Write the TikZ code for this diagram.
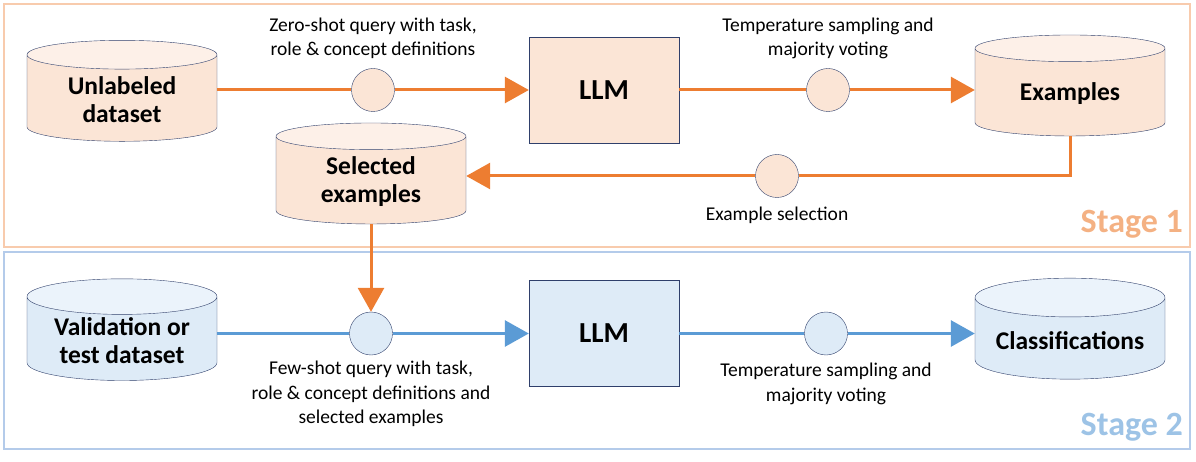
\documentclass[tikz,border=0pt]{standalone}
\usepackage{fontspec}
\setmainfont{Carlito}
\usetikzlibrary{positioning,shapes.geometric,arrows.meta}

\definecolor{lineorange}{HTML}{ED7D31}
\definecolor{fillorange}{HTML}{FBE5D6}
\definecolor{toporange}{HTML}{FDF0E8}
\definecolor{frameorange}{HTML}{F8CBAD}
\definecolor{textorange}{HTML}{F4B183}
\definecolor{lineblue}{HTML}{5B9BD5}
\definecolor{fillblue}{HTML}{DEEBF7}
\definecolor{topblue}{HTML}{EBF3FB}
\definecolor{frameblue}{HTML}{B4CBEA}
\definecolor{textblue}{HTML}{9DC3E6}
\definecolor{edgenavy}{HTML}{2F3F6B}

\begin{document}
\begin{tikzpicture}[x=1pt, y=-1pt,
    dbnode/.style={cylinder, shape border rotate=90, draw=edgenavy, thin, aspect=0.25,
        minimum width=190pt, minimum height=101pt, cylinder uses custom fill,
        align=center, font=\fontsize{25.5}{28}\selectfont\bfseries},
    llmnode/.style={rectangle, draw=edgenavy, thin, minimum width=150pt, minimum height=106pt,
        font=\fontsize{29}{32}\selectfont\bfseries},
    stepcircle/.style={circle, draw=edgenavy, thin, minimum size=43pt, inner sep=0pt},
    notenode/.style={align=center, inner sep=0pt, font=\fontsize{19.5}{24.5}\selectfont},
    orangeline/.style={draw=lineorange, line width=3pt},
    blueline/.style={draw=lineblue, line width=3pt},
    flowarrow/.style={-{Triangle[length=24pt, width=26pt]}},
    stagelabel/.style={anchor=base east, inner sep=0pt, font=\fontsize{34}{38}\selectfont\bfseries}]

    \useasboundingbox (0,0) rectangle (1196,462);

    % stage frames
    \draw[frameorange, line width=1.5pt] (4,4) rectangle (1190,247);
    \draw[frameblue, line width=1.5pt] (4,252) rectangle (1190,449);
    \node[stagelabel, text=textorange] (st1) at (1183,233) {Stage 1};
    \node[stagelabel, text=textblue] (st2) at (1183,435) {Stage 2};

    % stage 1
    \node[dbnode, cylinder body fill=fillorange, cylinder end fill=toporange] (unlab) at (122,100) {Unlabeled\\dataset};
    \node[stepcircle, fill=fillorange] (q1) at (373,90) {};
    \node[llmnode, fill=fillorange] (llm1) at (604,90) {LLM};
    \node[stepcircle, fill=fillorange] (q2) at (828,90) {};
    \node[dbnode, cylinder body fill=fillorange, cylinder end fill=toporange] (ex) at (1070,94) {Examples};
    \node[dbnode, cylinder body fill=fillorange, cylinder end fill=toporange] (sel) at (371,182) {Selected\\examples};
    \node[stepcircle, fill=fillorange] (q3) at (777,176) {};

    \node[notenode] (n1) [above=9pt of q1] {Zero-shot query with task,\\role \& concept definitions};
    \node[notenode] (n2) [above=9pt of q2] {Temperature sampling and\\majority voting};
    \node[notenode] (n3) [below=9pt of q3] {Example selection};

    \draw[orangeline] (unlab.east |- q1) -- (q1);
    \draw[orangeline, flowarrow] (q1) -- (llm1);
    \draw[orangeline] (llm1) -- (q2);
    \draw[orangeline, flowarrow] (q2) -- (q2 -| ex.west);
    \draw[orangeline] (ex.south) |- (q3);
    \draw[orangeline, flowarrow] (q3) -- (q3 -| sel.east);

    % stage 2
    \node[dbnode, cylinder body fill=fillblue, cylinder end fill=topblue] (val) at (122,341) {Validation or\\test dataset};
    \node[stepcircle, fill=fillblue] (q4) at (371,333.5) {};
    \node[llmnode, fill=fillblue] (llm2) at (604,333.5) {LLM};
    \node[stepcircle, fill=fillblue] (q5) at (826,333.5) {};
    \node[dbnode, cylinder body fill=fillblue, cylinder end fill=topblue] (cls) at (1070,341) {Classifications};

    \node[notenode] (n4) [below=6pt of q4] {Few-shot query with task,\\role \& concept definitions and\\selected examples};
    \node[notenode] (n5) [below=8pt of q5] {Temperature sampling and\\majority voting};

    \draw[blueline] (val.east |- q4) -- (q4);
    \draw[blueline, flowarrow] (q4) -- (llm2);
    \draw[blueline] (llm2) -- (q5);
    \draw[blueline, flowarrow] (q5) -- (q5 -| cls.west);
    \draw[orangeline, flowarrow] (sel.south) -- (q4.north);

\end{tikzpicture}
\end{document}
